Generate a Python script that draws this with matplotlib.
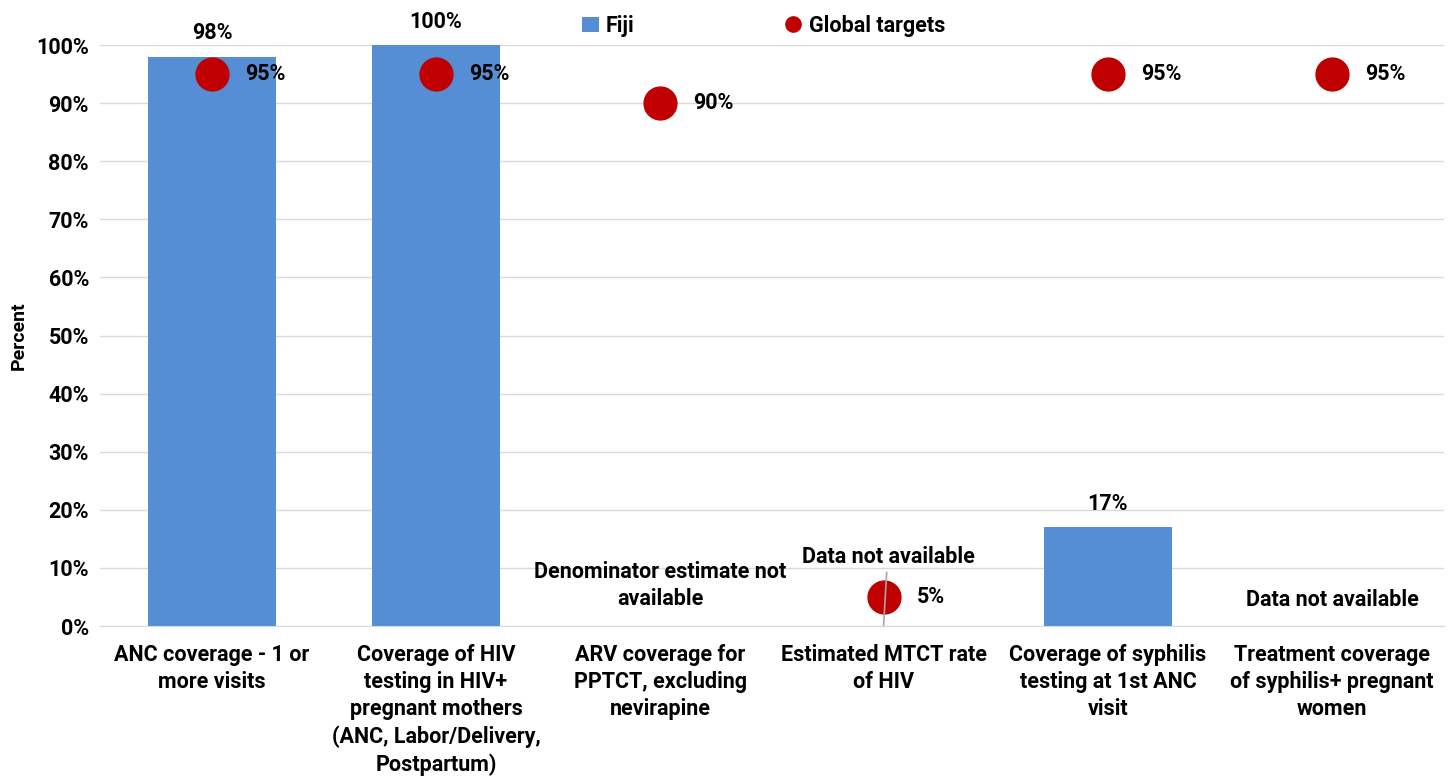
import numpy as np
import matplotlib.pyplot as plt
from matplotlib.lines import Line2D
from matplotlib.patches import Patch

# data
categories = ['ANC coverage - 1 or\nmore visits',
              'Coverage of HIV\ntesting in HIV+\npregnant mothers\n(ANC, Labor/Delivery,\nPostpartum)',
              'ARV coverage for\nPPTCT, excluding\nnevirapine',
              'Estimated MTCT rate\nof HIV',
              'Coverage of syphilis\ntesting at 1st ANC\nvisit',
              'Treatment coverage\nof syphilis+ pregnant\nwomen']
fiji = [98, 100, np.nan, np.nan, 17, np.nan]
targets = [95, 95, 90, 5, 95, 95]
notes = {2: 'Denominator estimate not\navailable', 3: 'Data not available', 5: 'Data not available'}

plt.rcParams['font.family'] = ['Roboto', 'DejaVu Sans']
plt.rcParams['font.weight'] = 'bold'
fs = 15.5

fig = plt.figure(figsize=(14.54, 7.84), dpi=100)
ax = fig.add_axes([0.0688, 0.2015, 0.9243, 0.7411])

x = np.arange(len(categories))
bar_col = '#558ED5'
dot_col = '#C00000'

ax.bar(x, fiji, width=0.57, color=bar_col, zorder=2)
ax.scatter(x, targets, s=560, color=dot_col, zorder=4)

for i, v in enumerate(fiji):
    if not np.isnan(v):
        ax.annotate(f'{v:.0f}%', (x[i], v), xytext=(0, 9), textcoords='offset points',
                    ha='center', va='bottom', fontsize=fs, fontweight='bold')
for i, v in enumerate(targets):
    ax.annotate(f'{v:.0f}%', (x[i], v), xytext=(24, 0), textcoords='offset points',
                ha='left', va='center', fontsize=fs, fontweight='bold')

# notes for missing data
ax.text(2, 6.9, notes[2], ha='center', va='center', fontsize=fs, fontweight='bold', linespacing=1.3)
ax.text(3.02, 11.8, notes[3], ha='center', va='center', fontsize=fs, fontweight='bold')
ax.plot([3.012, 2.998], [9.2, 0], color='#A6A6A6', lw=1.2, zorder=5)
ax.text(5, 4.5, notes[5], ha='center', va='center', fontsize=fs, fontweight='bold')

ax.set_xlim(-0.5, len(categories) - 0.5)
ax.set_ylim(0, 100)
ax.set_yticks(np.arange(0, 101, 10))
ax.set_yticklabels([f'{t}%' for t in range(0, 101, 10)])
ax.set_xticks(x)
ax.set_xticklabels(categories, linespacing=1.3)
ax.tick_params(axis='both', length=0, labelsize=fs, pad=8)
ax.tick_params(axis='x', pad=13)
for lbl in ax.get_xticklabels() + ax.get_yticklabels():
    lbl.set_fontweight('bold')

ax.grid(axis='y', color='#D9D9D9', lw=1, zorder=0)
ax.set_axisbelow(True)
for s in ['top', 'right', 'left']:
    ax.spines[s].set_visible(False)
ax.spines['bottom'].set_color('#D9D9D9')

ax.set_ylabel('Percent', fontsize=14, fontweight='bold', labelpad=6)

handles = [Patch(facecolor=bar_col, label='Fiji'),
           Line2D([], [], marker='o', ls='', color=dot_col, markersize=11, label='Global targets')]
fig.legend(handles=handles, loc='center', bbox_to_anchor=(0.525, 0.967), ncol=2, frameon=False,
           handlelength=0.8, handletextpad=0.3, columnspacing=7.0,
           prop={'weight': 'bold', 'size': fs})

fig.savefig('out.png', dpi=100)
